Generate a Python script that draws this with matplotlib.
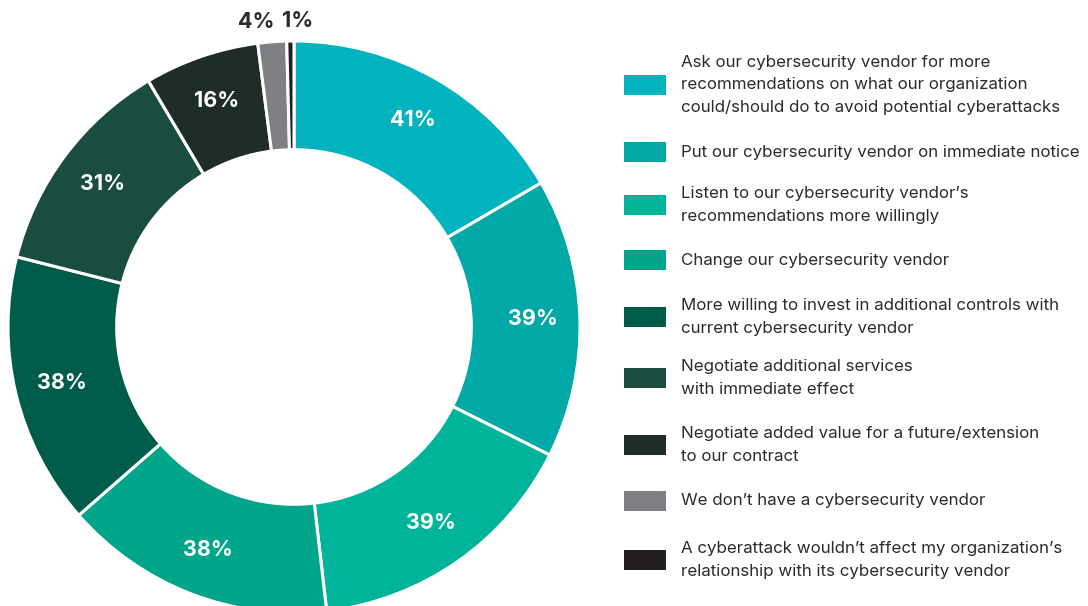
import numpy as np
import matplotlib.pyplot as plt
from matplotlib.patches import Rectangle

labels = [
    "Ask our cybersecurity vendor for more\nrecommendations on what our organization\ncould/should do to avoid potential cyberattacks",
    "Put our cybersecurity vendor on immediate notice",
    "Listen to our cybersecurity vendor\u2019s\nrecommendations more willingly",
    "Change our cybersecurity vendor",
    "More willing to invest in additional controls with\ncurrent cybersecurity vendor",
    "Negotiate additional services\nwith immediate effect",
    "Negotiate added value for a future/extension\nto our contract",
    "We don\u2019t have a cybersecurity vendor",
    "A cyberattack wouldn\u2019t affect my organization\u2019s\nrelationship with its cybersecurity vendor",
]
values = [41, 39, 39, 38, 38, 31, 16, 4, 1]
pct_labels = ["41%", "39%", "39%", "38%", "38%", "31%", "16%", "4%", "1%"]
colors = ["#00B3BE", "#00A9A6", "#00B49A", "#00A58A", "#005C4A",
          "#1A4D40", "#1E2D26", "#7F8084", "#231F20"]

plt.rcParams['font.family'] = ['Inter', 'DejaVu Sans']

W, H = 1088, 606
fig = plt.figure(figsize=(W / 100, H / 100), dpi=100)

# donut: centre (294, 327) px from top-left, radius 286 px
cx, cy, R = 294, 327, 286
ax = fig.add_axes([(cx - R) / W, (H - cy - R) / H, 2 * R / W, 2 * R / H])
wedges, _ = ax.pie(values, colors=colors, startangle=90, counterclock=False,
                   radius=1.0, wedgeprops=dict(width=0.38, edgecolor='white', linewidth=2.2))
ax.set_xlim(-1, 1)
ax.set_ylim(-1, 1)
ax.set_aspect('equal')
ax.axis('off')

for i, w in enumerate(wedges):
    ang = np.deg2rad((w.theta1 + w.theta2) / 2)
    if values[i] >= 10:
        r = 0.835
        ax.text(r * np.cos(ang), r * np.sin(ang), pct_labels[i], ha='center', va='center',
                color='white', fontsize=15.5, fontweight='bold')
    else:
        r = 1.07
        nudge = -0.05 if i == 7 else 0.025
        ax.text(r * np.cos(ang) + nudge, r * np.sin(ang), pct_labels[i], ha='center', va='center',
                color='#2B2B2B', fontsize=15.5, fontweight='bold', clip_on=False)

# legend
ys = [85, 152, 205, 260, 317, 378, 445, 501, 560]
for lab, c, y in zip(labels, colors, ys):
    fig.patches.append(Rectangle((624 / W, (H - y - 10) / H), 42 / W, 20 / H,
                                 transform=fig.transFigure, facecolor=c, edgecolor='none'))
    fig.text(681 / W, (H - y) / H, lab, ha='left', va='center', fontsize=12.2,
             color='#2B2B2B', linespacing=1.62)

fig.savefig('out.png', dpi=100)
